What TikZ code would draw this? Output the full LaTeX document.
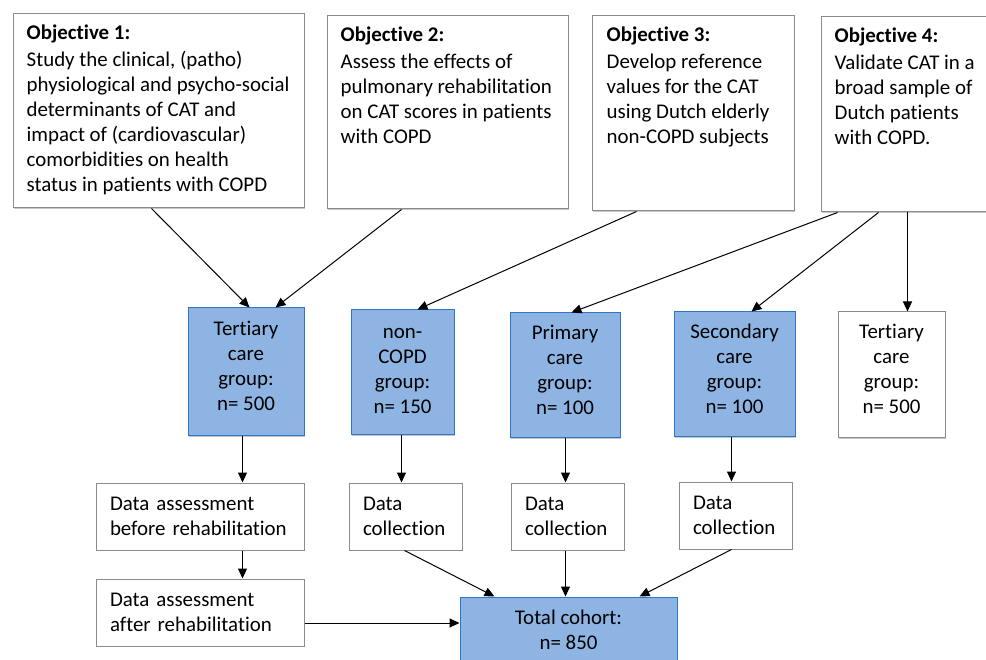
\documentclass[tikz,border=0pt]{standalone}
\usepackage{fontspec}
\setmainfont{Carlito}[Ligatures=NoCommon]
\usetikzlibrary{arrows.meta,shadows}
\definecolor{bfill}{RGB}{141,180,226}
\definecolor{bdraw}{RGB}{46,117,200}
\definecolor{gdraw}{RGB}{140,140,140}
\begin{document}
\begin{tikzpicture}[x=1pt,y=-1pt,
  font=\fontsize{20.9pt}{25pt}\selectfont,
  shd/.style={drop shadow={shadow xshift=1.2pt,shadow yshift=-1.2pt,fill=black,opacity=0.22}},
  wbox/.style={draw=gdraw,line width=1pt,fill=white,rectangle,inner sep=0pt,shd},
  bbox/.style={draw=bdraw,line width=1pt,fill=bfill,rectangle,inner sep=0pt,align=center,shd},
  dbox/.style={draw=gdraw,line width=1pt,fill=white,rectangle,inner xsep=14pt,inner ysep=0pt,align=left,shd},
  otext/.style={anchor=north west,inner sep=0pt,align=left},
  gtext/.style={anchor=north,inner sep=0pt,align=center},
  arr/.style={draw=black,line width=1pt,-{Triangle[length=10pt,width=9pt]}}]
\useasboundingbox (0,0) rectangle (986,660);
\clip (0,0) rectangle (986,660);

% objective boxes
\node[wbox,minimum width=291pt,minimum height=194pt] (o1) at (158.5,111) {};
\node[wbox,minimum width=241pt,minimum height=193pt] (o2) at (447.5,112.5) {};
\node[wbox,minimum width=202pt,minimum height=195pt] (o3) at (693,113.5) {};
\node[wbox,minimum width=174pt,minimum height=195pt] (o4) at (908,114.5) {};

\node[otext] (o1t) at ([xshift=14pt,yshift=-8.5pt]o1.north west) {\strut\textbf{Objective 1:}\\[2pt]Study the clinical, (patho)\\physiological and psycho-social\\determinants of CAT and\\impact of (cardiovascular)\\comorbidities on health\\status in patients with COPD};
\node[otext] (o2t) at ([xshift=14pt,yshift=-8.5pt]o2.north west) {\strut\textbf{Objective 2:}\\[2pt]Assess the effects of\\pulmonary rehabilitation\\on CAT scores in patients\\with COPD};
\node[otext] (o3t) at ([xshift=15pt,yshift=-8.5pt]o3.north west) {\strut\textbf{Objective 3:}\\[2pt]Develop reference\\values for the CAT\\using Dutch elderly\\non-COPD subjects};
\node[otext] (o4t) at ([xshift=14pt,yshift=-8.5pt]o4.north west) {\strut\textbf{Objective 4:}\\[2pt]Validate CAT in a\\broad sample of\\Dutch patients\\with COPD.};

% group boxes
\node[bbox,minimum width=116pt,minimum height=128pt] (g1) at (246,372) {};
\node[bbox,minimum width=103pt,minimum height=125pt] (g2) at (402.5,372.5) {};
\node[bbox,minimum width=110pt,minimum height=125pt] (g3) at (565,375.5) {};
\node[bbox,minimum width=121pt,minimum height=125pt] (g4) at (734.5,374.5) {};
\node[wbox,minimum width=107pt,minimum height=126pt] (g5) at (891.5,375) {};
\node[gtext] (g1t) at ([yshift=-10pt]g1.north) {\strut Tertiary\\care\\group:\\n= 500};
\node[gtext] (g2t) at ([yshift=-11pt]g2.north) {\strut non-\\COPD\\group:\\n= 150};
\node[gtext] (g3t) at ([yshift=-9.5pt]g3.north) {\strut Primary\\care\\group:\\n= 100};
\node[gtext] (g4t) at ([yshift=-9.5pt]g4.north) {\strut Secondary\\care\\group:\\n= 100};
\node[gtext] (g5t) at ([yshift=-9.5pt]g5.north) {\strut Tertiary\\care\\group:\\n= 500};

% data boxes
\node[dbox,text width=180pt,minimum height=67pt] (d1) at (200,516.5) {Data assessment\\before rehabilitation};
\node[dbox,text width=85pt,minimum height=67pt] (d2) at (405.5,516.5) {Data\\collection};
\node[dbox,text width=85pt,minimum height=67pt] (d3) at (567.5,516.5) {Data\\collection};
\node[dbox,text width=85pt,minimum height=67pt] (d4) at (735.5,515.5) {Data\\collection};
\node[dbox,text width=180pt,minimum height=67pt] (d5) at (200,612.5) {Data assessment\\after rehabilitation};
\node[bbox,minimum width=217pt,minimum height=65pt] (tot) at (568.5,629.5) {Total cohort:\\n= 850};

% arrows from objectives
\draw[arr] ([xshift=139pt]o1.south west) -- ([xshift=62pt]g1.north west);
\draw[arr] ([xshift=75pt]o2.south west) -- ([xshift=88pt]g1.north west);
\draw[arr] ([xshift=45pt]o3.south west) -- ([xshift=67pt]g2.north west);
\draw[arr] ([xshift=17pt]o4.south west) -- ([xshift=62pt]g3.north west);
\draw[arr] ([xshift=58pt]o4.south west) -- ([xshift=78pt]g4.north west);
\draw[arr] ([xshift=87pt]o4.south west) -- ([xshift=87pt]o4.south west |- g5.north);

% group to data
\draw[arr] ([xshift=55pt]g1.south west) -- ([xshift=55pt]g1.south west |- d1.north);
\draw[arr] ([xshift=51pt]g2.south west) -- ([xshift=51pt]g2.south west |- d2.north);
\draw[arr] ([xshift=56pt]g3.south west) -- ([xshift=56pt]g3.south west |- d3.north);
\draw[arr] ([xshift=58pt]g4.south west) -- ([xshift=58pt]g4.south west |- d4.north);
\draw[arr] ([xshift=147pt]d1.south west) -- ([xshift=147pt]d1.south west |- d5.north);

% to total
\draw[arr] ([yshift=-10.5pt]d5.east) -- ([yshift=-10.5pt]d5.east -| tot.west);
\draw[arr] ([xshift=56pt]d2.south west) -- ([xshift=35pt]tot.north west);
\draw[arr] ([xshift=55pt]d3.south west) -- ([xshift=106pt]tot.north west);
\draw[arr] ([xshift=53pt]d4.south west) -- ([xshift=180pt]tot.north west);
\end{tikzpicture}
\end{document}
